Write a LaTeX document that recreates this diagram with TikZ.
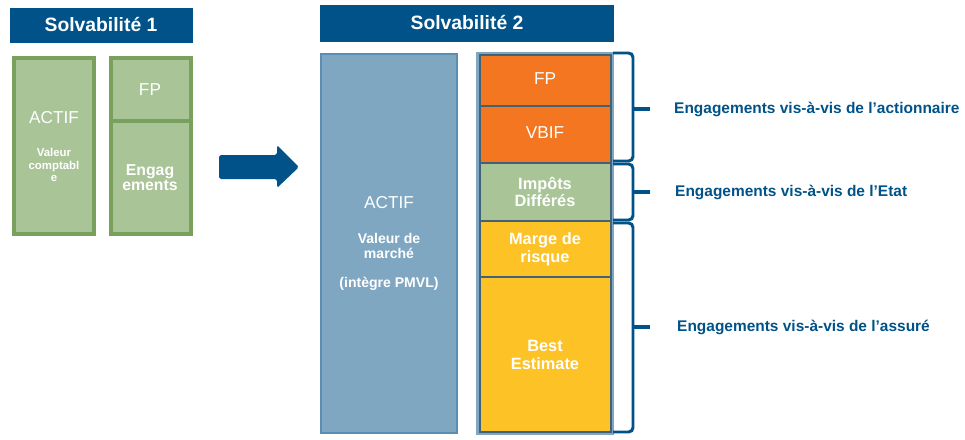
\documentclass[tikz,border=0pt]{standalone}
\usepackage{fontspec}
\setmainfont{Liberation Sans}
\definecolor{sblue}{RGB}{0,82,136}
\definecolor{sgreen}{RGB}{169,196,151}
\definecolor{sgreenb}{RGB}{122,160,94}
\definecolor{actblue}{RGB}{127,167,193}
\definecolor{actblueb}{RGB}{92,142,180}
\definecolor{sorange}{RGB}{244,118,33}
\definecolor{sgold}{RGB}{252,194,38}
\definecolor{slate}{RGB}{66,98,120}
\tikzset{
  title/.style={fill=sblue},
  titletext/.style={text=white,font=\fontsize{11}{12}\selectfont\bfseries},
  greenbox/.style={fill=sgreen,draw=sgreenb,line width=2.3pt},
  colbox/.style={draw=slate,line width=1.5pt},
  boxtext/.style={text=white,align=center,font=\fontsize{9.8}{10}\selectfont},
  boldtext/.style={text=white,align=center,font=\fontsize{9.3}{10.2}\selectfont\bfseries},
  bracket/.style={draw=sblue,line width=1.7pt,rounded corners=2.5pt},
  brlabel/.style={anchor=west,text=sblue,font=\fontsize{8.8}{10}\selectfont\bfseries}
}
\begin{document}
\begin{tikzpicture}[x=0.02cm,y=-0.02cm]
\useasboundingbox (0,0) rectangle (965,440);

% Solvabilite 1
\path[title] (10,8) rectangle (193,43);
\node[titletext] (t1) at (101,25) {Solvabilité 1};
\path[greenbox] (14,58) rectangle (94,234);
\path[greenbox] (111,58) rectangle (191,121);
\path[greenbox] (111,121) rectangle (191,234);
\node[boxtext] (actif1) at (54,118) {ACTIF};
\node[text=white,align=center,font=\fontsize{6.5}{6.9}\selectfont\bfseries]
  (val1) at (54,165) {Valeur\\comptabl\\e};
\node[boxtext] (fp1) at (150,90) {FP};
\node[boldtext,font=\fontsize{9}{8.6}\selectfont\bfseries] (eng1) at (150,178) {Engag\\ements};

% fleche
\fill[sblue,rounded corners=1pt] (219,155) -- (277,155) -- (277,145) -- (299,167)
  -- (277,188) -- (277,179) -- (219,179) -- cycle;

% Solvabilite 2
\path[title] (320,5) rectangle (614,42);
\node[titletext] (t2) at (467,23) {Solvabilité 2};
\path[fill=actblue,draw=actblueb,line width=1.7pt] (321,54) rectangle (457,433);
\node[boxtext] (actif2) at (389,203) {ACTIF};
\node[text=white,align=center,font=\fontsize{8}{8.5}\selectfont\bfseries]
  (val2) at (389,246) {Valeur de\\marché};
\node[text=white,font=\fontsize{8}{8.5}\selectfont\bfseries] (pmvl) at (389,284) {(intègre PMVL)};

\path[fill=actblue] (476,52) rectangle (614,435);
\path[colbox,fill=sorange] (480,55) rectangle (611,106);
\path[colbox,fill=sorange] (480,106) rectangle (611,163);
\path[colbox,fill=sgreen] (480,163) rectangle (611,221);
\path[colbox,fill=sgold] (480,221) rectangle (611,277);
\path[colbox,fill=sgold] (480,277) rectangle (611,432);
\node[boxtext] (fp2) at (545,79) {FP};
\node[boxtext] (vbif) at (545,133) {VBIF};
\node[boldtext] (impots) at (545,192) {Impôts\\Différés};
\node[boldtext] (marge) at (545,249) {Marge de\\risque};
\node[boldtext] (best) at (545,355) {Best\\Estimate};

% accolades
\draw[bracket] (613,53) -| (633,161) -- (613,161);
\draw[bracket,line width=2pt] (633,109) -- (650,109);
\draw[bracket] (613,164) -| (633,220) -- (613,220);
\draw[bracket,line width=2pt] (633,192) -- (650,192);
\draw[bracket] (613,223) -| (633,432) -- (613,432);
\draw[bracket,line width=2pt] (633,327) -- (650,327);
\node[brlabel] (eact) at (668,109) {Engagements vis-à-vis de l’actionnaire};
\node[brlabel] (eetat) at (669,192) {Engagements vis-à-vis de l’Etat};
\node[brlabel] (eass) at (671,327) {Engagements vis-à-vis de l’assuré};
\end{tikzpicture}
\end{document}
